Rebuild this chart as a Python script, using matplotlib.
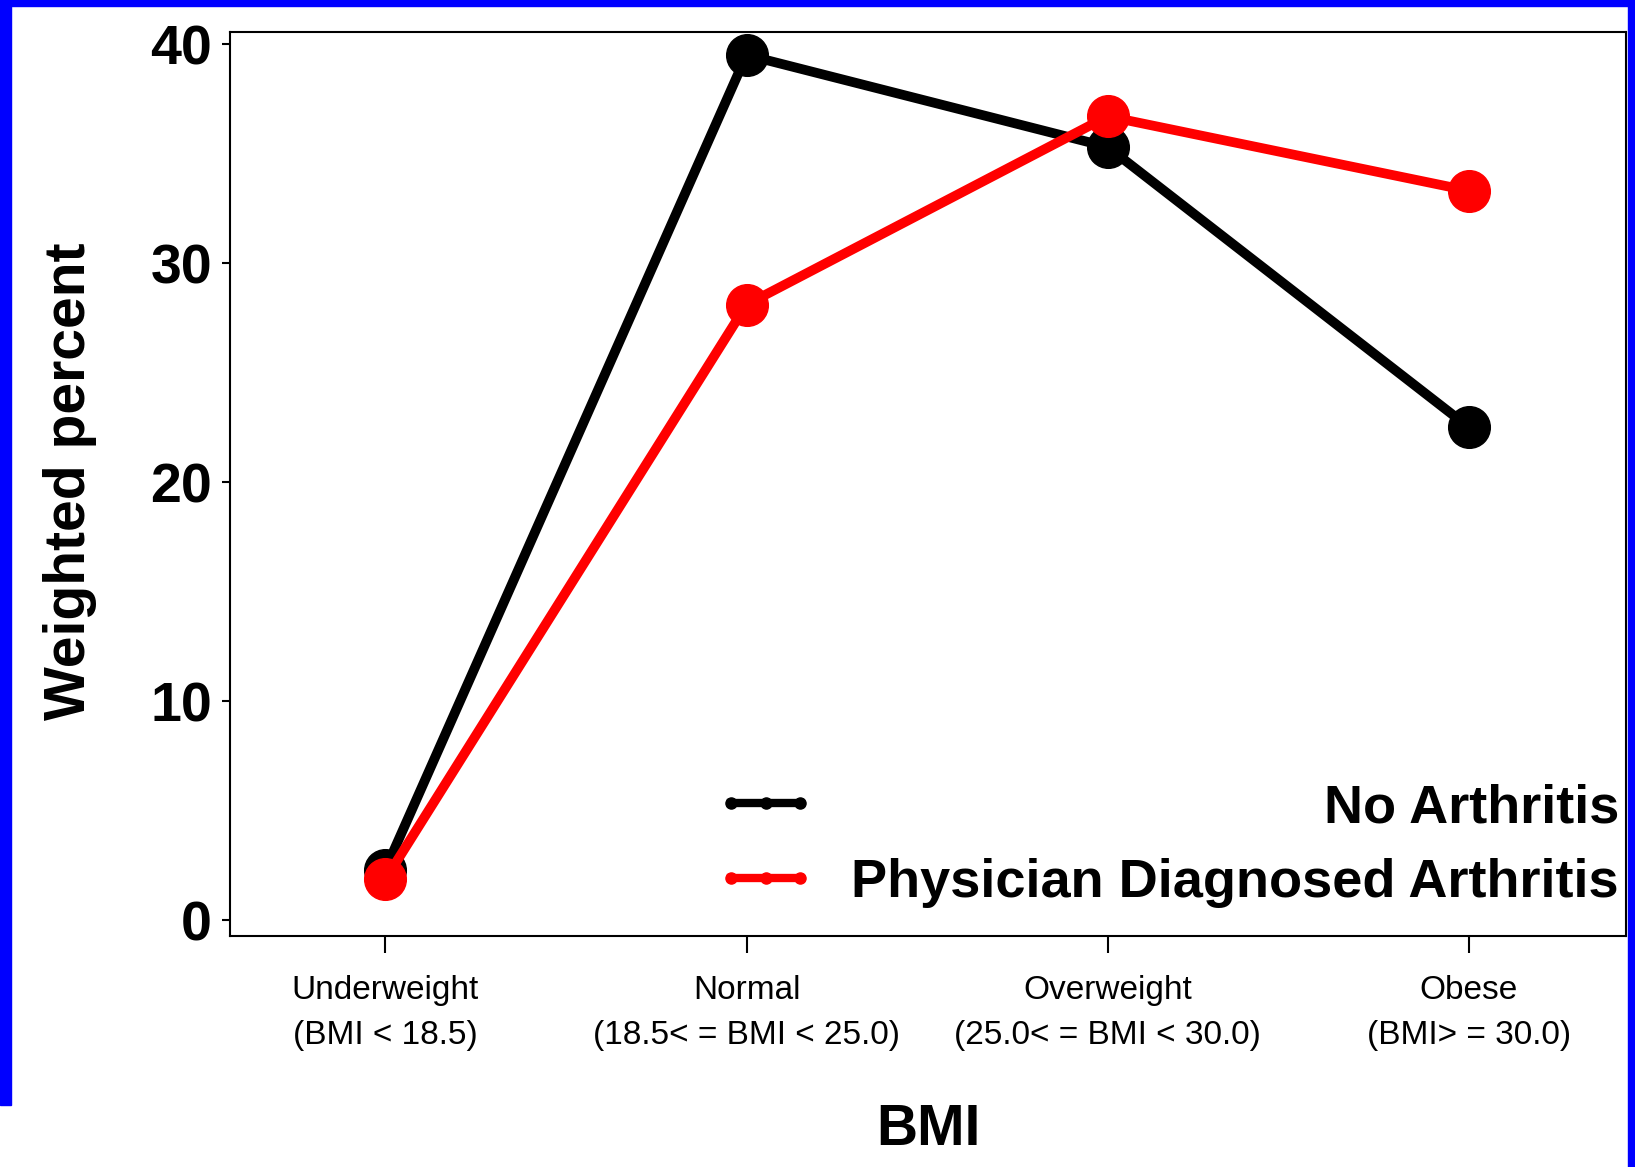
import numpy as np
import matplotlib
matplotlib.use("Agg")
import matplotlib.pyplot as plt
from matplotlib.lines import Line2D
from matplotlib.patches import Rectangle

# data
categories = ["Underweight\n(BMI < 18.5)",
              "Normal\n(18.5< = BMI < 25.0)",
              "Overweight\n(25.0< = BMI < 30.0)",
              "Obese\n(BMI> = 30.0)"]
no_arthritis = [2.3, 39.5, 35.3, 22.5]
phys_arthritis = [1.85, 28.1, 36.7, 33.3]
series_names = ["No Arthritis", "Physician Diagnosed Arthritis"]
yticks = [0, 10, 20, 30, 40]

plt.rcParams["font.family"] = ["Liberation Sans", "DejaVu Sans"]

fig = plt.figure(figsize=(16.35, 11.67), dpi=100, facecolor="white")
ax = fig.add_axes([230/1635, (1167-936)/1167, (1626-230)/1635, (936-32)/1167])

x = np.arange(len(categories))
ax.plot(x, no_arthritis, color="black", lw=7, marker="o", ms=30, zorder=3)
ax.plot(x, phys_arthritis, color="#ff0000", lw=7, marker="o", ms=30, zorder=4)

ax.set_xlim(-0.43, 3.435)
ax.set_ylim(-0.73, 40.55)
ax.set_xticks(x)
ax.set_xticklabels(categories, fontsize=24, linespacing=1.6)
ax.set_yticks(yticks)
ax.set_yticklabels([str(v) for v in yticks], fontsize=40, fontweight="bold")
ax.tick_params(axis="x", length=12, width=1.5, pad=16)
ax.tick_params(axis="y", length=6, width=1.5, pad=7)
for s in ax.spines.values():
    s.set_linewidth(1.5)

ax.set_xlabel("BMI", fontsize=41, fontweight="bold", va="center")
ax.xaxis.set_label_coords(0.5, (936-1130)/904)
ax.set_ylabel("Weighted percent", fontsize=41, fontweight="bold", va="center")
ax.yaxis.set_label_coords((70-230)/1396, (936-481)/904)

# legend
handles = [Line2D([], [], color="black", lw=6, marker="o", ms=8),
           Line2D([], [], color="#ff0000", lw=6, marker="o", ms=8)]
leg = ax.legend(handles, series_names, loc="lower right", bbox_to_anchor=(0.995, 0.031),
                frameon=False, numpoints=3, handlelength=1.88, handletextpad=0.64,
                labelspacing=0.46, borderaxespad=0, borderpad=0,
                prop={"weight": "bold", "size": 39})

fig.canvas.draw()
texts = leg.get_texts()
widths = [t.get_window_extent().width for t in texts]
wmax = max(widths)
for t, w in zip(texts, widths):
    t.set_position((wmax - w, 0))

# blue frame
blue = "#0000ff"
fig.patches.append(Rectangle((0, 1 - 6/1167), 1, 6/1167, transform=fig.transFigure, color=blue))
fig.patches.append(Rectangle((0, 62/1167), 11/1635, 1, transform=fig.transFigure, color=blue))
fig.patches.append(Rectangle((1628/1635, 0), 7/1635, 1, transform=fig.transFigure, color=blue))

fig.savefig("out.png", dpi=100, facecolor="white")
